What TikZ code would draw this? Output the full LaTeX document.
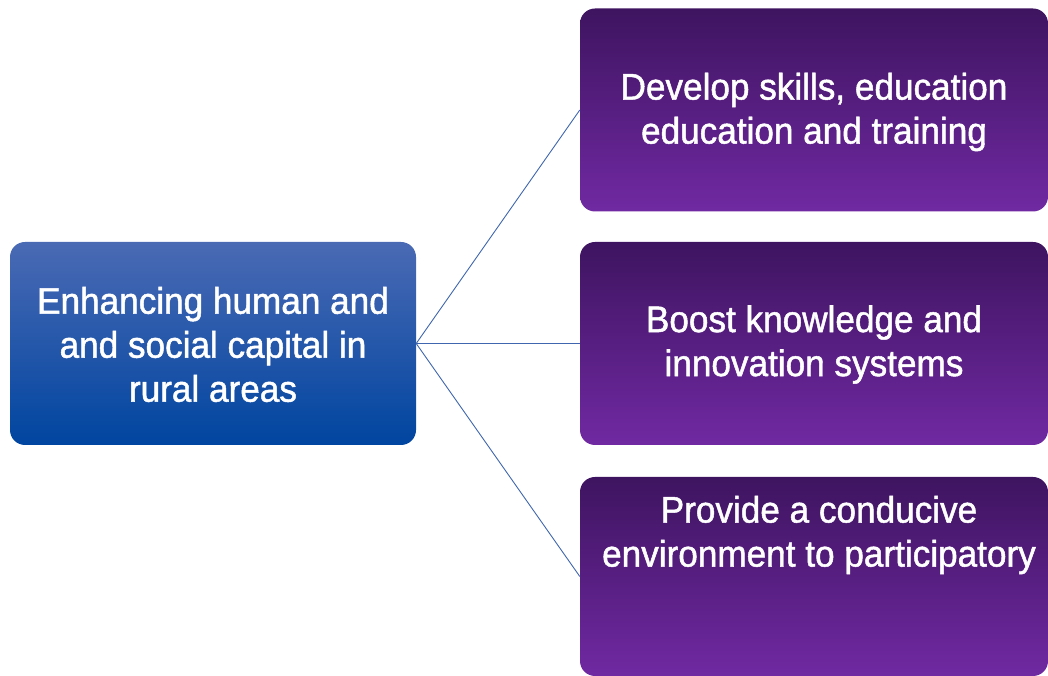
\documentclass[tikz,border=0pt]{standalone}
\usepackage{fontspec}
\setmainfont{Liberation Sans}[FakeStretch=0.95, FakeBold=1.3]
\definecolor{bluetop}{HTML}{4A6AB4}
\definecolor{bluebot}{HTML}{0045A0}
\definecolor{purtop}{HTML}{3E1460}
\definecolor{purbot}{HTML}{7029A2}
\definecolor{linkc}{HTML}{3F66AE}
\tikzset{
  bluebox/.style={rectangle, rounded corners=15pt, inner sep=0pt, top color=bluetop, bottom color=bluebot, draw=none, minimum width=406pt, minimum height=203pt},
  purbox/.style={rectangle, rounded corners=15pt, inner sep=0pt, top color=purtop, bottom color=purbot, draw=none, minimum width=468pt, minimum height=203pt},
  boxtext/.style={text=white, align=center, font=\fontsize{37}{44}\selectfont},
  link/.style={draw=linkc, line width=0.9pt}
}
\begin{document}
\begin{tikzpicture}[x=1pt,y=1pt]
\useasboundingbox (0,0) rectangle (1048,676);
\node[bluebox] (L) at (213,332.5) {};
\node[boxtext] (Lt) at ([yshift=-1pt]L.center) {Enhancing human and\\and social capital in\\rural areas};
\node[purbox] (R1) at (814,566) {};
\node[boxtext] (R1t) at ([yshift=-2pt]R1.center) {Develop skills, education\\education and training};
\node[purbox] (R2) at (814,332.5) {};
\node[boxtext] (R2t) at ([yshift=-1pt]R2.center) {Boost knowledge and\\innovation systems};
\node[purbox, minimum height=199pt] (R3) at (814,99.5) {};
\node[boxtext] (R3t) at (819,141) {Provide a conducive\\environment to participatory};
\draw[link] (L.east) -- (R1.west);
\draw[link] (L.east) -- (R2.west);
\draw[link] (L.east) -- (R3.west);
\end{tikzpicture}
\end{document}
